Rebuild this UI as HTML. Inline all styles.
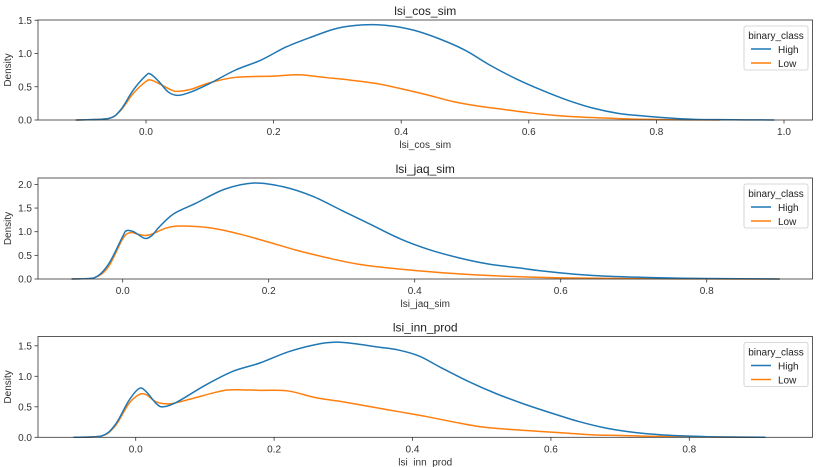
<!DOCTYPE html>
<html><head><meta charset="utf-8"><style>
body{margin:0;background:#fff}
svg{display:block;font-family:"Liberation Sans",sans-serif}
</style></head><body>
<svg id="chart" width="819" height="467" viewBox="0 0 819 467"></svg>
<script>
// panel 1: lsi_cos_sim
const p1High = [[-0.11,0],[-0.06,0.02],[-0.04,0.15],[-0.02,0.45],[0,0.67],[0.007,0.69],[0.02,0.58],[0.035,0.42],[0.05,0.37],[0.07,0.42],[0.1,0.55],[0.14,0.75],[0.18,0.9],[0.22,1.1],[0.26,1.25],[0.3,1.38],[0.34,1.43],[0.38,1.42],[0.42,1.35],[0.46,1.22],[0.5,1.05],[0.54,0.82],[0.58,0.62],[0.62,0.45],[0.66,0.3],[0.7,0.18],[0.74,0.1],[0.78,0.06],[0.82,0.03],[0.86,0.01],[0.9,0.005],[0.985,0]];
const p1Low = [[-0.11,0],[-0.06,0.02],[-0.04,0.14],[-0.02,0.4],[0,0.58],[0.008,0.6],[0.02,0.55],[0.04,0.45],[0.05,0.43],[0.07,0.46],[0.1,0.56],[0.14,0.64],[0.2,0.66],[0.24,0.68],[0.28,0.64],[0.32,0.6],[0.36,0.55],[0.4,0.47],[0.44,0.38],[0.48,0.28],[0.52,0.21],[0.56,0.16],[0.6,0.11],[0.64,0.07],[0.68,0.045],[0.72,0.03],[0.76,0.015],[0.8,0.008],[0.85,0.002],[0.9,0]];
// panel 2: lsi_jaq_sim
const p2High = [[-0.07,0],[-0.04,0.02],[-0.02,0.3],[0,0.9],[0.005,1.02],[0.015,1.0],[0.03,0.86],[0.04,0.92],[0.05,1.1],[0.07,1.38],[0.1,1.6],[0.14,1.9],[0.18,2.03],[0.22,1.95],[0.26,1.75],[0.3,1.45],[0.34,1.15],[0.38,0.85],[0.42,0.62],[0.46,0.45],[0.5,0.32],[0.54,0.24],[0.58,0.16],[0.62,0.1],[0.66,0.06],[0.7,0.04],[0.75,0.02],[0.8,0.01],[0.9,0]];
const p2Low = [[-0.07,0],[-0.04,0.02],[-0.02,0.25],[0,0.85],[0.01,0.98],[0.02,0.95],[0.03,0.92],[0.04,0.95],[0.06,1.08],[0.08,1.12],[0.12,1.08],[0.16,0.95],[0.2,0.78],[0.24,0.6],[0.28,0.45],[0.32,0.32],[0.36,0.24],[0.4,0.18],[0.44,0.13],[0.48,0.09],[0.52,0.06],[0.56,0.04],[0.6,0.025],[0.65,0.015],[0.7,0.008],[0.8,0.002],[0.9,0]];
// panel 3: lsi_inn_prod
const p3High = [[-0.09,0],[-0.05,0.02],[-0.03,0.2],[-0.01,0.6],[0.005,0.8],[0.015,0.75],[0.03,0.55],[0.04,0.5],[0.06,0.58],[0.1,0.85],[0.14,1.08],[0.18,1.22],[0.22,1.4],[0.26,1.52],[0.29,1.56],[0.32,1.53],[0.35,1.48],[0.38,1.43],[0.41,1.33],[0.44,1.15],[0.48,0.92],[0.52,0.72],[0.56,0.55],[0.6,0.4],[0.64,0.26],[0.68,0.15],[0.72,0.08],[0.76,0.04],[0.8,0.02],[0.85,0.005],[0.91,0]];
const p3Low = [[-0.09,0],[-0.05,0.02],[-0.03,0.18],[-0.01,0.55],[0.005,0.7],[0.015,0.7],[0.03,0.58],[0.05,0.55],[0.08,0.63],[0.12,0.75],[0.14,0.78],[0.18,0.77],[0.22,0.76],[0.26,0.65],[0.3,0.58],[0.34,0.5],[0.38,0.42],[0.42,0.34],[0.46,0.25],[0.5,0.17],[0.54,0.13],[0.58,0.1],[0.62,0.07],[0.66,0.04],[0.7,0.03],[0.75,0.015],[0.8,0.01],[0.9,0]];
const p1XTicks = [0.0,0.2,0.4,0.6,0.8,1.0];
const p1YTicks = [0.0,0.5,1.0,1.5];
const p2XTicks = [0.0,0.2,0.4,0.6,0.8];
const p2YTicks = [0.0,0.5,1.0,1.5,2.0];
const p3XTicks = [0.0,0.2,0.4,0.6,0.8];
const p3YTicks = [0.0,0.5,1.0,1.5];
const titles = ["lsi_cos_sim","lsi_jaq_sim","lsi_inn_prod"];

const NS="http://www.w3.org/2000/svg";
const svg=document.getElementById('chart');
function mk(tag,attrs,parent){const e=document.createElementNS(NS,tag);for(const k in attrs)e.setAttribute(k,attrs[k]);(parent||svg).appendChild(e);return e;}

const panels=[
 {high:p1High,low:p1Low,xt:p1XTicks,yt:p1YTicks,top:20,bot:120,x0:146,xs:638,ys:66.5,title:titles[0],name:'cos-sim'},
 {high:p2High,low:p2Low,xt:p2XTicks,yt:p2YTicks,top:178,bot:279,x0:122.7,xs:730,ys:47.3,title:titles[1],name:'jaq-sim'},
 {high:p3High,low:p3Low,xt:p3XTicks,yt:p3YTicks,top:336.5,bot:437.3,x0:135.7,xs:692,ys:61,title:titles[2],name:'inn-prod'}
];
const L=38,R=812.5;
function pathD(pts,X,Y){
  const p=pts.map(d=>[X(d[0]),Y(d[1])]);
  let d='M'+p[0][0]+','+p[0][1];
  for(let i=0;i<p.length-1;i++){
    const p0=p[i-1]||p[i],p1=p[i],p2=p[i+1],p3=p[i+2]||p2;
    const c1x=p1[0]+(p2[0]-p0[0])/6,c1y=p1[1]+(p2[1]-p0[1])/6;
    const c2x=p2[0]-(p3[0]-p1[0])/6,c2y=p2[1]-(p3[1]-p1[1])/6;
    d+=` C${c1x},${Math.min(c1y,Y(0))} ${c2x},${Math.min(c2y,Y(0))} ${p2[0]},${p2[1]}`;
  }
  return d;
}
panels.forEach(P=>{
  const X=v=>P.x0+v*P.xs, Y=v=>P.bot-v*P.ys;
  const g=mk('g',{});
  
  
  const t=mk('text',{x:(L+R)/2,y:P.top-5,'text-anchor':'middle','font-size':12,fill:'#222'},g);
  t.textContent=P.title;
  
  
  P.xt.forEach(v=>{
    mk('line',{x1:X(v),x2:X(v),y1:P.bot,y2:P.bot+3.5,stroke:'#333','stroke-width':0.8},g);
    const tx=mk('text',{x:X(v),y:P.bot+15,'text-anchor':'middle','font-size':10,fill:'#333'},g);
    tx.textContent=v.toFixed(1);
    
    
  });
  P.yt.forEach(v=>{
    mk('line',{x1:L-3.5,x2:L,y1:Y(v),y2:Y(v),stroke:'#333','stroke-width':0.8},g);
    const ty=mk('text',{x:L-6,y:Y(v)+3.5,'text-anchor':'end','font-size':10,fill:'#333'},g);
    ty.textContent=v.toFixed(1);
    
    
  });
  const xl=mk('text',{x:(L+R)/2,y:P.bot+28,'text-anchor':'middle','font-size':10,fill:'#333'},g);
  xl.textContent=P.title;
  
  
  const yl=mk('text',{x:0,y:0,'text-anchor':'middle','font-size':10,fill:'#333',transform:`translate(11,${(P.top+P.bot)/2}) rotate(-90)`},g);
  yl.textContent='Density';
  
  
  const lo=mk('path',{d:pathD(P.low,X,Y),fill:'none',stroke:'#ff7f0e','stroke-width':1.5},g);
  
  
  const hi=mk('path',{d:pathD(P.high,X,Y),fill:'none',stroke:'#1f77b4','stroke-width':1.5},g);
  
  
  mk('rect',{x:L,y:P.top,width:R-L,height:P.bot-P.top,fill:'none',stroke:'#333','stroke-width':0.8},g);
  const lg=mk('g',{},g);
  
  
  const ly=P.top+6;
  mk('rect',{x:744,y:ly,width:64,height:44,fill:'#fff',stroke:'#ccc','stroke-width':0.8,rx:2},lg);
  const lt=mk('text',{x:776,y:ly+13,'text-anchor':'middle','font-size':10,fill:'#222'},lg);
  lt.textContent='binary_class';
  [['High','#1f77b4',27],['Low','#ff7f0e',41]].forEach(([n,c,dy])=>{
    mk('line',{x1:751,x2:771,y1:ly+dy-4,y2:ly+dy-4,stroke:c,'stroke-width':1.5},lg);
    const e=mk('text',{x:778,y:ly+dy,'font-size':10,fill:'#222'},lg);
    e.textContent=n;
    
    
  });
});
</script>
</body></html>
